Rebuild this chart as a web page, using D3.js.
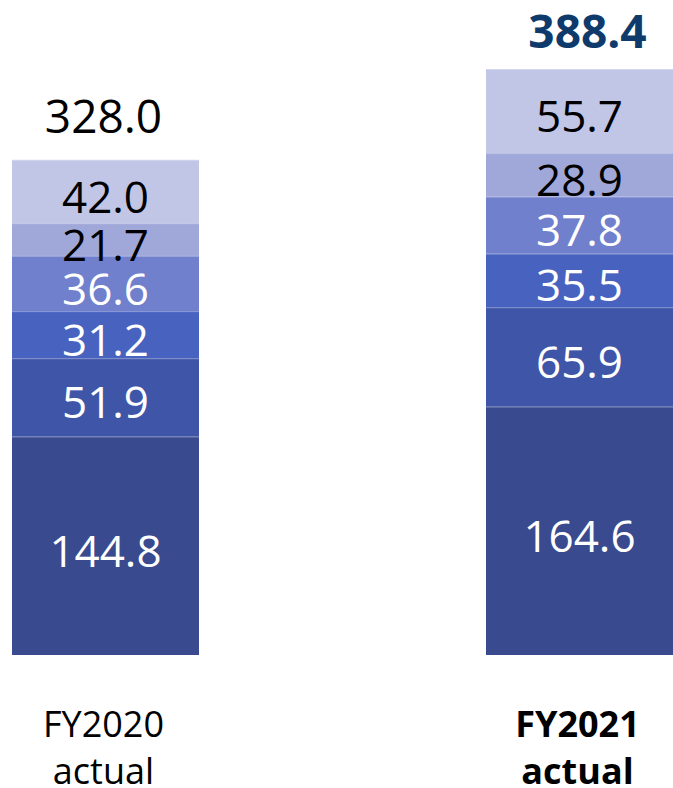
<!DOCTYPE html>
<html><head><meta charset="utf-8">
<script src="https://cdn.jsdelivr.net/npm/d3@7"></script>
<style>html,body{margin:0;padding:0;background:#fff;}svg{display:block;}</style>
</head><body>
<svg id="c" width="673" height="788"></svg>
<script>
const categories = ["FY2020 actual", "FY2021 actual"];
const catLine1 = ["FY2020", "FY2021"];
const catLine2 = ["actual", "actual"];
const segmentNames = ["s1", "s2", "s3", "s4", "s5", "s6"];
const fy2020 = [144.8, 51.9, 31.2, 36.6, 21.7, 42.0];
const fy2021 = [164.6, 65.9, 35.5, 37.8, 28.9, 55.7];
const totals = [328.0, 388.4];
const colors = ["#394a8f", "#3f56a8", "#4862c0", "#7080cc", "#a0a8da", "#c1c5e6"];
const labelColors = ["#fff", "#fff", "#fff", "#fff", "#000", "#000"];

const series = [fy2020, fy2021];
const svg = d3.select("#c");
const x = d3.scaleBand().domain(categories).range([12, 673]).paddingInner(0.6055).paddingOuter(0);
const y = d3.scaleLinear().domain([0, 388.4]).range([655, 69]);

const font = "'Open Sans', 'Noto Sans', sans-serif";

categories.forEach((cat, ci) => {
  const vals = series[ci];
  let cum = 0;
  const g = svg.append("g");
  vals.forEach((v, si) => {
    const y0 = cum, y1 = cum + v;
    cum = y1;
    g.append("rect")
      .attr("x", x(cat))
      .attr("width", x.bandwidth())
      .attr("y", y(y1))
      .attr("height", y(y0) - y(y1))
      .attr("fill", colors[si]);
    g.append("line")
      .attr("x1", x(cat)).attr("x2", x(cat) + x.bandwidth())
      .attr("y1", y(y1) + 0.5).attr("y2", y(y1) + 0.5)
      .attr("stroke", "rgba(255,255,255,0.3)").attr("stroke-width", 1);
    g.append("text")
      .attr("x", x(cat) + x.bandwidth() / 2)
      .attr("y", (y(y0) + y(y1)) / 2 + 4)
      .attr("text-anchor", "middle")
      .attr("dominant-baseline", "central")
      .attr("font-family", font)
      .attr("font-size", 44)
      .attr("fill", labelColors[si])
      .text(v.toFixed(1));
  });
  // total
  svg.append("text")
    .attr("x", x(cat) + x.bandwidth() / 2 + (ci === 0 ? -2 : 8))
    .attr("y", y(totals[ci]) - (ci === 0 ? 45 : 39))
    .attr("text-anchor", "middle")
    .attr("dominant-baseline", "central")
    .attr("font-family", font)
    .attr("font-size", 46)
    .attr("font-weight", ci === 0 ? 400 : 700)
    .attr("fill", ci === 0 ? "#000" : "#0e3a6c")
    .text(totals[ci].toFixed(1));
  // category labels
  const cx = x(cat) + x.bandwidth() / 2 - 2;
  [catLine1[ci], catLine2[ci]].forEach((t, li) => {
    svg.append("text")
      .attr("x", cx)
      .attr("y", 723 + li * 47)
      .attr("text-anchor", "middle")
      .attr("dominant-baseline", "central")
      .attr("font-family", font)
      .attr("font-size", 36)
      .attr("font-weight", ci === 0 ? 400 : 700)
      .attr("fill", "#000")
      .text(t);
  });
});
</script>
</body></html>
